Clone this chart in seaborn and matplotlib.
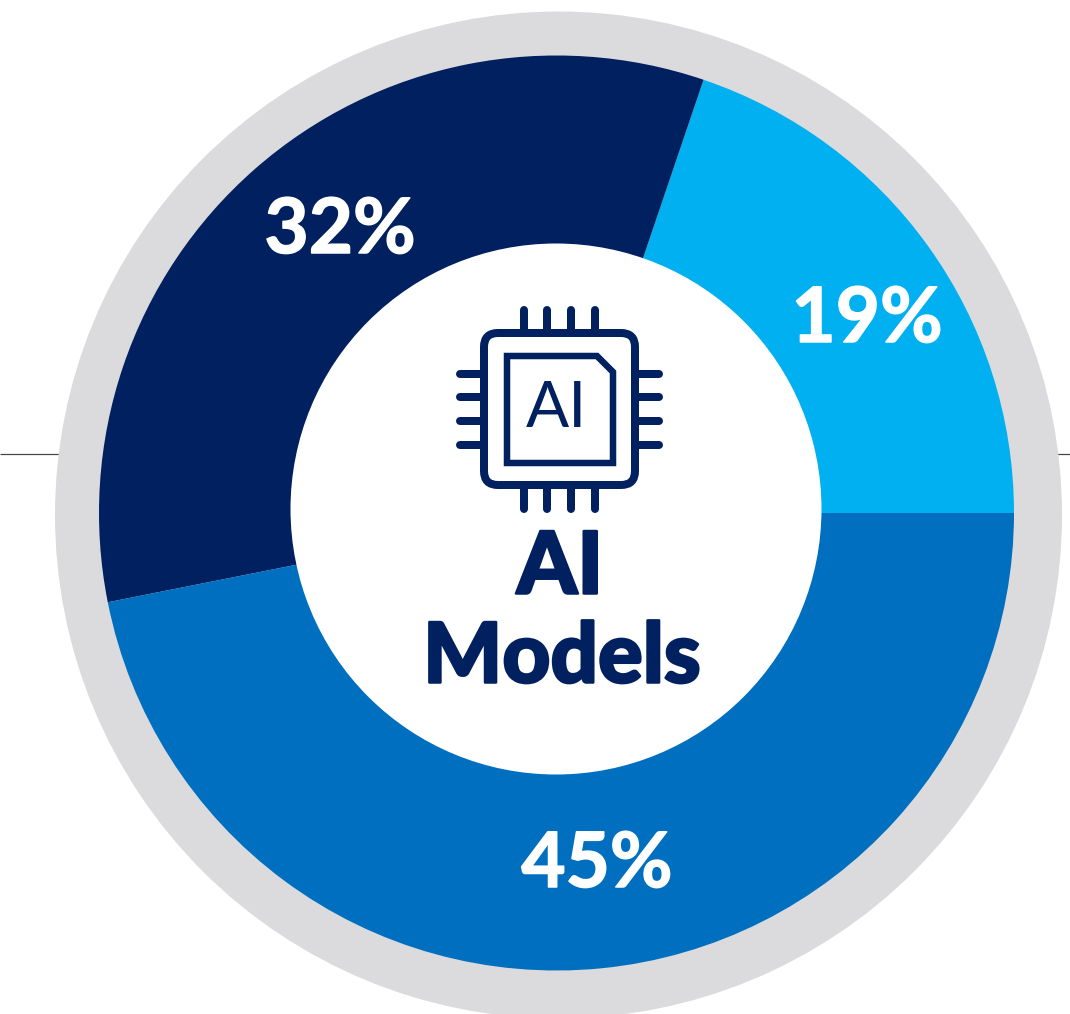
import matplotlib
matplotlib.use("Agg")
import matplotlib.pyplot as plt
import matplotlib.patheffects as pe
from matplotlib.patches import Circle, FancyBboxPatch, Polygon
import seaborn as sns

# Data
categories = ["Segment A", "Segment B", "Segment C"]
shares = [19, 32, 45]
share_labels = ["19%", "32%", "45%"]
center_title = "AI\nModels"

NAVY = "#002060"
palette = sns.color_palette(["#00B0F0", NAVY, "#006FC0"])

sns.set_theme(style="white")
plt.rcParams["font.family"] = ["Lato", "DejaVu Sans"]

W, H = 1070, 1014
fig = plt.figure(figsize=(W / 100, H / 100), dpi=100)
ax = fig.add_axes([0, 0, 1, 1])
px = 0.72  # points per pixel


def Y(v):
    return H - v


# Thin rule behind the ring
ax.plot([0, W], [Y(454), Y(454)], color="#444444", lw=1.2 * px, zorder=0, solid_capstyle="butt")

# Grey ring
ax.add_patch(Circle((558.5, Y(515)), 503.5, fc="#DBDBDD", ec="none", zorder=1))

# Donut
wedges, _ = ax.pie(shares, colors=palette, startangle=0, counterclock=True,
                   center=(556.5, Y(513)), radius=457.5,
                   wedgeprops=dict(linewidth=0), frame=False)
for w in wedges:
    w.set_zorder(2)
ax.add_patch(Circle((556, Y(509)), 265.5, fc="white", ec="none", zorder=3))

# Percent labels
label_pos = [(867, 320), (340, 231), (597, 865)]
for s, (x, y) in zip(share_labels, label_pos):
    ax.text(x, Y(y), s, color="white", fontsize=55, fontweight="bold",
            ha="center", va="center", zorder=4,
            path_effects=[pe.withStroke(linewidth=1.5 * px, foreground="white")])

# Centre text
t1, t2 = center_title.split("\n")
bold = [pe.withStroke(linewidth=2.5 * px, foreground=NAVY)]
ax.text(560, Y(569), t1, color=NAVY, fontsize=62, fontweight="black", ha="center", va="center",
        zorder=4, path_effects=bold)
ax.text(562, Y(658), t2, color=NAVY, fontsize=60, fontweight="black", ha="center", va="center",
        zorder=4, path_effects=bold)

# Chip icon
for x in (524, 547, 571, 595):
    ax.plot([x, x], [Y(310), Y(340)], color=NAVY, lw=8 * px, solid_capstyle="round", zorder=4)
    ax.plot([x, x], [Y(480), Y(509)], color=NAVY, lw=8 * px, solid_capstyle="round", zorder=4)
for y in (374, 397, 421, 445):
    ax.plot([460, 490], [Y(y), Y(y)], color=NAVY, lw=8 * px, solid_capstyle="round", zorder=4)
    ax.plot([630, 659], [Y(y), Y(y)], color=NAVY, lw=8 * px, solid_capstyle="round", zorder=4)
ax.add_patch(FancyBboxPatch((484, Y(485)), 151, 152, boxstyle="round,pad=0,rounding_size=14",
                            fc="white", ec=NAVY, lw=8 * px, zorder=5))
chip = [(507, 356), (597, 356), (613, 372), (613, 463), (507, 463)]
ax.add_patch(Polygon([(x, Y(y)) for x, y in chip], closed=True, fc="white", ec=NAVY, lw=6.5 * px,
                     joinstyle="miter", zorder=6))
ax.text(556, Y(409), "AI", color=NAVY, fontsize=46, fontweight="normal", ha="center", va="center", zorder=7)

ax.set_xlim(0, W)
ax.set_ylim(0, H)
ax.set_aspect("auto")
ax.axis("off")
fig.savefig("out.png", dpi=100, facecolor="white")
